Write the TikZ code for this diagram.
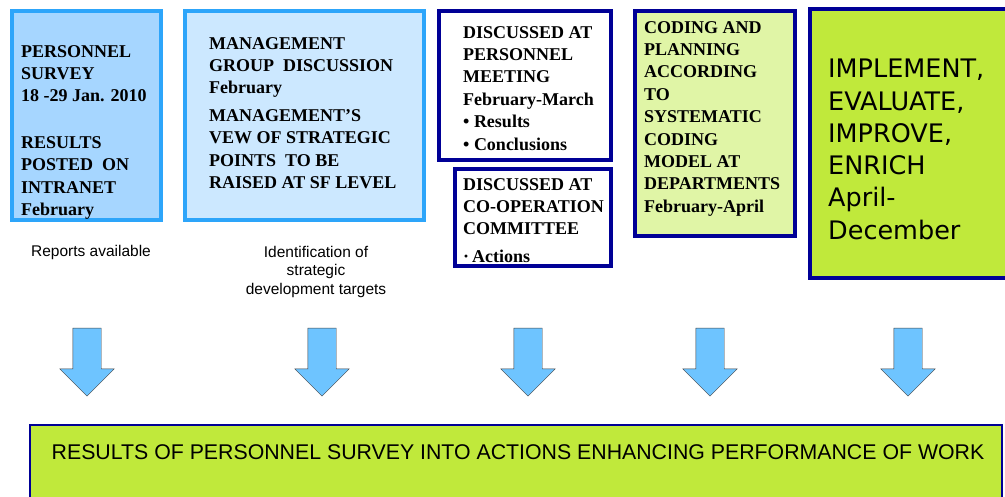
\documentclass[tikz,border=0pt]{standalone}
\usepackage{fontspec}
\usepackage{tikz}
\usetikzlibrary{shapes.arrows}
\setmainfont{Liberation Serif}
\newfontfamily\arialfont{Liberation Sans}
\newfontfamily\verdfont{DejaVu Sans}
\definecolor{skyline}{RGB}{45,165,250}
\definecolor{skyfill}{RGB}{166,214,255}
\definecolor{paleblue}{RGB}{204,232,255}
\definecolor{navy}{RGB}{0,0,150}
\definecolor{palegreen}{RGB}{224,245,166}
\definecolor{lime}{RGB}{192,233,59}
\definecolor{arrowblue}{RGB}{110,196,255}

\begin{document}
\begin{tikzpicture}[x=1pt, y=-1pt,
  box/.style = {draw, line width=3.5pt, inner sep=0pt, outer sep=0pt, anchor=north west},
  bluebox/.style = {box, draw=skyline},
  navybox/.style = {box, draw=navy},
  boxtext/.style = {inner sep=0pt, anchor=north west, align=left, font=\fontsize{18}{22.4}\selectfont\bfseries},
  lbl/.style = {inner sep=0pt, align=center, font=\arialfont\fontsize{15.5}{18.5}\selectfont},
  downarrow/.style = {single arrow, draw=gray!50!black, fill=arrowblue, rotate=-90,
    single arrow head extend=13pt, inner xsep=0pt, inner ysep=14pt, minimum height=68pt}]
  \useasboundingbox (0,0) rectangle (1005,497);

  \node[bluebox, fill=skyfill, minimum width=149, minimum height=209] (1) at (12,11) {};
  \node[bluebox, fill=paleblue, minimum width=239, minimum height=209] (2) at (185,11) {};
  \node[navybox, fill=white, minimum width=172, minimum height=149] (3) at (439,11) {};
  \node[navybox, fill=white, minimum width=156, minimum height=97] (4) at (455,169) {};
  \node[navybox, fill=palegreen, minimum width=160, minimum height=225] (5) at (635,11) {};
  \node[navybox, fill=lime, minimum width=200, minimum height=269] (6) at (810,9) {};
  \node[navybox, fill=lime, line width=2.5pt, minimum width=972, minimum height=100] (7) at (30,425) {};

  \node[boxtext] (t1) at ([shift={(9,34)}]1.north west)
    {PERSONNEL\\ SURVEY\\ 18 -29 Jan. 2010\\[24pt] RESULTS\\ POSTED\ \ ON\\ INTRANET\\ February};
  \node[boxtext] (t2) at ([shift={(24,26)}]2.north west)
    {MANAGEMENT\\ GROUP\ \ DISCUSSION\\ February\\[5pt] MANAGEMENT’S\\ VEW OF STRATEGIC\\ POINTS\ \ TO BE\\ RAISED AT SF LEVEL};
  \node[boxtext] (t3) at ([shift={(24,15)}]3.north west)
    {DISCUSSED AT\\ PERSONNEL\\ MEETING\\ February-March\\ • Results\\ • Conclusions};
  \node[boxtext] (t4) at ([shift={(8,9)}]4.north west)
    {DISCUSSED AT\\ CO-OPERATION\\ COMMITTEE\\[5pt] ·\,Actions};
  \node[boxtext] (t5) at ([shift={(9,10)}]5.north west)
    {CODING AND\\ PLANNING\\ ACCORDING\\ TO\\ SYSTEMATIC\\ CODING\\ MODEL AT\\ DEPARTMENTS\\ February-April};
  \node[boxtext, font=\verdfont\fontsize{25.5}{32.3}\selectfont] (t6) at ([shift={(18,50)}]6.north west)
    {IMPLEMENT,\\ EVALUATE,\\ IMPROVE,\\ ENRICH\\ April-\\ December};

  \node[lbl] (r1) at (91,252) {Reports available};
  \node[lbl, anchor=north] (r2) at (316,246) {Identification of\\ strategic\\ development targets};

  \foreach \x [count=\i] in {87,322,528,710,908}
    \node[downarrow] (a\i) at (\x,355) {};

  \node[font=\arialfont\fontsize{21.3}{24}\selectfont, inner sep=0pt] (t7) at (518,452)
    {RESULTS OF PERSONNEL SURVEY INTO ACTIONS ENHANCING PERFORMANCE OF WORK};
\end{tikzpicture}
\end{document}
